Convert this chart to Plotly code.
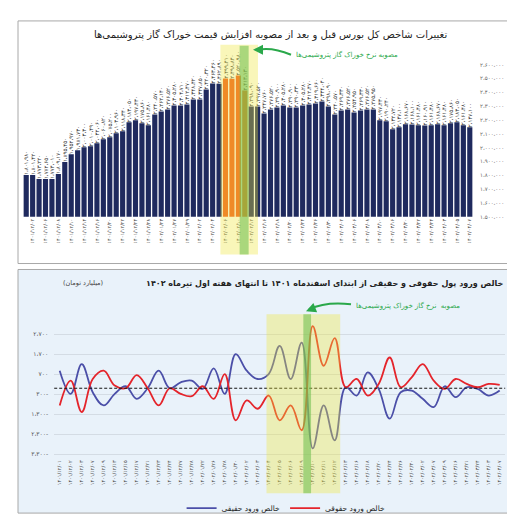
import plotly.graph_objects as go

W, H = 515, 522

# شاخص کل بورس (روزانه)
top_dates = [
    "1401/12/01", "1401/12/02", "1401/12/03", "1401/12/06", "1401/12/07", "1401/12/08", "1401/12/09",
    "1401/12/10", "1401/12/13", "1401/12/14", "1401/12/15", "1401/12/16", "1401/12/17", "1401/12/20",
    "1401/12/21", "1401/12/22", "1401/12/23", "1401/12/24", "1401/12/27", "1401/12/28",
    "1402/01/22", "1402/01/23", "1402/01/26", "1402/01/27", "1402/01/28", "1402/01/29", "1402/01/30",
    "1402/02/02", "1402/02/03", "1402/02/04", "1402/02/05", "1402/02/06", "1402/02/09", "1402/02/10",
    "1402/02/11", "1402/02/12", "1402/02/13", "1402/02/16", "1402/02/17", "1402/02/18", "1402/02/19",
    "1402/02/20", "1402/02/23", "1402/02/24", "1402/02/25", "1402/02/26", "1402/02/27", "1402/02/30",
    "1402/03/01", "1402/03/02", "1402/03/03", "1402/03/06", "1402/03/07", "1402/03/08", "1402/03/09",
    "1402/03/10", "1402/03/13", "1402/03/16", "1402/03/17", "1402/03/20", "1402/03/21", "1402/03/22",
    "1402/03/23", "1402/03/24", "1402/03/27", "1402/04/03", "1402/04/04", "1402/04/05", "1402/04/06",
    "1402/04/07",
]
tedpix = [
    1801980, 1801420, 1773220, 1772650, 1774010, 1809170, 1895450, 1952970, 1981730, 2003300,
    2010490, 2032060, 2060820, 2075200, 2103960, 2118340, 2183050, 2197430, 2175860, 2161480,
    2240570, 2262140, 2276520, 2305280, 2304710, 2312470, 2348420, 2347850, 2420320, 2463460,
    2462890, 2499410, 2498840, 2520980, 2413130, 2298090, 2297520, 2247760, 2276520, 2290900,
    2305280, 2290900, 2290330, 2305280, 2312470, 2319660, 2334040, 2298090, 2240570, 2269330,
    2276520, 2254950, 2269330, 2276520, 2275950, 2197430, 2190240, 2132720, 2147100, 2168670,
    2168100, 2161480, 2160910, 2161480, 2168670, 2161480, 2175860, 2183050, 2161480, 2147100,
]
orange_bars = [31, 32, 33, 34]
top_ticks = [1500000, 1600000, 1700000, 1800000, 1900000, 2000000,
             2100000, 2200000, 2300000, 2400000, 2500000, 2600000]

# خالص ورود پول (میلیارد تومان)
flow_dates = [
    "1401/12/01", "1401/12/02", "1401/12/03", "1401/12/07", "1401/12/09", "1401/12/13", "1401/12/15",
    "1401/12/17", "1401/12/21", "1401/12/23", "1401/12/24", "1401/12/27", "1401/12/28",
    "1402/01/22", "1402/01/26", "1402/01/28", "1402/01/30",
    "1402/02/02", "1402/02/03", "1402/02/04", "1402/02/05", "1402/02/06", "1402/02/09", "1402/02/10",
    "1402/02/11", "1402/02/12", "1402/02/13", "1402/02/16", "1402/02/18", "1402/02/20", "1402/02/24",
    "1402/02/26", "1402/02/30", "1402/03/02", "1402/03/07", "1402/03/09", "1402/03/16", "1402/03/21",
    "1402/03/24", "1402/04/03", "1402/04/07",
]
haghighi = [875, -280, 1205, -198, -858, -280, 99, -528, 0, 875,
            0, 297, 380, -33, 990, -280, 1700, 875, 462, 710,
            2112, 462, 2277, -3003, -858, -2600, 50, -363, 792, -33,
            -1518, -198, -116, -528, -940, 99, -445, 50, -33, -363, -116]
hoghoghi = [-858, 380, -1188, 462, 875, 132, 0, 660, 0, -858,
            0, -280, -396, 99, -528, 710, -1600, -610, -1023, -363,
            -1600, -858, -2095, 3102, 1122, 2500, 50, 462, -363, 214,
            1535, 50, 545, 1205, 380, -33, 462, 214, 50, 214, 165]
flow_ticks = [-3300, -2300, -1300, -300, 700, 1700, 2700]

FA = str.maketrans("0123456789", "۰۱۲۳۴۵۶۷۸۹")


def fa(s):
    return str(s).translate(FA)


def fa_num(v):
    s = fa(f"{abs(v):,}".replace(",", "،"))
    return s + "-" if v < 0 else s


def px(x, y):
    return x / W, 1 - y / H


FONT = "DejaVu Sans"
NAVY = "#1f2a5e"
ORANGE = "#f0561c"
GREEN = "#2aa84a"
YELLOW = "rgba(238,230,60,0.36)"
GREENBAND = "rgba(105,190,75,0.55)"

fig = go.Figure()

idx = list(range(len(tedpix)))
fig.add_trace(go.Bar(
    x=idx, y=tedpix,
    marker_color=[ORANGE if i in orange_bars else NAVY for i in idx],
    marker_line_width=0,
    text=[fa_num(v) for v in tedpix],
    textposition="outside", textangle=-90, constraintext="none",
    textfont=dict(size=5.5, color="#333", family=FONT),
    cliponaxis=False, showlegend=False, hoverinfo="skip",
    xaxis="x", yaxis="y",
))

k = list(range(len(haghighi)))
fig.add_trace(go.Scatter(
    x=k, y=haghighi, mode="lines", name="خالص ورود حقیقی",
    line=dict(color="#4b4fa8", width=1.8, shape="spline", smoothing=1.1),
    xaxis="x2", yaxis="y2",
))
fig.add_trace(go.Scatter(
    x=k, y=hoghoghi, mode="lines", name="خالص ورود حقوقی",
    line=dict(color="#e4242b", width=1.8, shape="spline", smoothing=1.1),
    xaxis="x2", yaxis="y2",
))

shapes = []
# panel frames
for (x0, y0, x1, y1, fill) in [(10, 13, 504, 257, "white"), (10, 263, 504, 508, "#e9f2fa")]:
    a, b = px(x0, y1)
    c, d = px(x1, y0)
    shapes.append(dict(type="rect", xref="paper", yref="paper", x0=a, y0=b, x1=c, y1=d,
                       fillcolor=fill, line=dict(color="#a8a8a8", width=1), layer="below"))

# zero line
shapes.append(dict(type="line", xref="x2 domain", yref="y2", x0=0, x1=1, y0=0, y1=0,
                   line=dict(color="#111", width=1, dash="3px,2px"), layer="above"))

# highlight bands
ya, yb = px(0, 248)[1], px(0, 37)[1]
shapes.append(dict(type="rect", xref="x", yref="paper", x0=30.2, x1=36.05, y0=ya, y1=yb,
                   fillcolor=YELLOW, line_width=0, layer="above"))
shapes.append(dict(type="rect", xref="x", yref="paper", x0=33.2, x1=34.6, y0=ya, y1=px(0, 38)[1],
                   fillcolor=GREENBAND, line_width=0, layer="above"))
ya2, yb2 = px(0, 488)[1], px(0, 308)[1]
shapes.append(dict(type="rect", xref="x2", yref="paper", x0=18.8, x1=25.5, y0=ya2, y1=yb2,
                   fillcolor=YELLOW, line_width=0, layer="above"))
shapes.append(dict(type="rect", xref="x2", yref="paper", x0=22.15, x1=22.85, y0=ya2, y1=yb2,
                   fillcolor=GREENBAND, line_width=0, layer="above"))


def curve(p0, pc, p1):
    a, c, e = px(*p0), px(*pc), px(*p1)
    return dict(type="path", xref="paper", yref="paper",
                path=f"M {a[0]},{a[1]} Q {c[0]},{c[1]} {e[0]},{e[1]}",
                line=dict(color=GREEN, width=2), layer="above")


shapes.append(curve((283, 47), (264, 39), (250, 42)))
shapes.append(curve((343, 298), (318, 295), (301, 303)))

annotations = []


def text(x, y, s, size, anchor="center", color="#222", bold=False):
    a, b = px(x, y)
    annotations.append(dict(xref="paper", yref="paper", x=a, y=b, xanchor=anchor, yanchor="middle",
                            text=f"<b>{s}</b>" if bold else s, showarrow=False,
                            font=dict(size=size, color=color, family=FONT)))


def head(x, y, ax, ay):
    a, b = px(x, y)
    annotations.append(dict(xref="paper", yref="paper", x=a, y=b, ax=ax, ay=ay, text="",
                            showarrow=True, arrowhead=2, arrowsize=1, arrowwidth=2,
                            arrowcolor=GREEN, standoff=0))


text(262, 27, "تغییرات شاخص کل بورس قبل و بعد از مصوبه افزایش قیمت خوراک گاز پتروشیمی‌ها", 10)
text(339, 47, "مصوبه نرخ خوراک گاز پتروشیمی‌ها", 7, color=GREEN)
head(245, 42, 6, 0)
text(498, 278, "خالص ورود پول حقوقی و حقیقی از ابتدای اسفندماه ۱۴۰۱ تا انتهای هفته اول تیرماه ۱۴۰۲",
     8, anchor="right", bold=True)
text(53, 277, "(میلیارد تومان)", 6.5, anchor="left", color="#444")
text(400, 299, "مصوبه  نرخ گاز خوراک پتروشیمی‌ها", 7, color=GREEN)
head(298, 305, 5, -2)

odd = idx[1::2]
fig.update_layout(
    width=W, height=H, autosize=False,
    margin=dict(l=0, r=0, t=0, b=0),
    paper_bgcolor="white", plot_bgcolor="rgba(0,0,0,0)",
    font=dict(family=FONT),
    bargap=0.2,
    shapes=shapes, annotations=annotations,
    xaxis=dict(domain=[15 / W, 465 / W], range=[-0.5, 69.5], anchor="y",
               tickvals=odd, ticktext=[fa(top_dates[i]) for i in odd], tickangle=-90,
               tickfont=dict(size=5, color="#444"), showgrid=False, zeroline=False, showline=False,
               ticks=""),
    yaxis=dict(domain=[px(0, 210)[1], px(0, 43.1)[1]], range=[1500000, 2700000], anchor="x",
               side="right", tickvals=top_ticks, ticktext=[fa_num(v) for v in top_ticks],
               tickfont=dict(size=5.5, color="#666"), showgrid=False, zeroline=False,
               showline=False, ticks="", ticklabelstandoff=6),
    xaxis2=dict(domain=[46.2 / W, 497.2 / W], range=[-0.5, 40.5], anchor="y2",
                tickvals=k, ticktext=[fa(d) for d in flow_dates], tickangle=-90,
                tickfont=dict(size=5, color="#444"), showgrid=False, zeroline=False,
                showline=False, ticks=""),
    yaxis2=dict(domain=[px(0, 453)[1], px(0, 311.9)[1]], range=[-3500, 3500], anchor="x2",
                tickvals=flow_ticks, ticktext=[fa_num(v) for v in flow_ticks],
                tickfont=dict(size=6, color="#555"), showgrid=True, gridcolor="#d4dce4",
                gridwidth=0.6, zeroline=False, showline=False, ticks="", ticklabelstandoff=5),
    legend=dict(orientation="h", x=0.54, xanchor="center", y=px(0, 503)[1], yanchor="middle",
                font=dict(size=7.5, color="#222", family=FONT), bgcolor="rgba(0,0,0,0)",
                itemwidth=30, tracegroupgap=0),
)

fig.write_html("out.html", config={"displayModeBar": False})
